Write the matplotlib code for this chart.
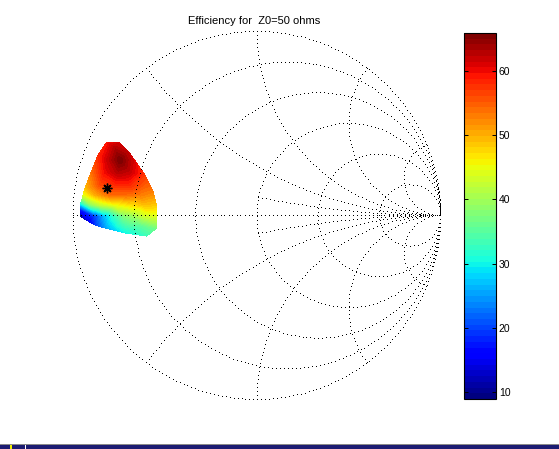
import numpy as np
import matplotlib
matplotlib.use("Agg")
import matplotlib.pyplot as plt
import matplotlib.tri as mtri
from matplotlib.patches import Rectangle

plt.rcParams['font.family'] = ['Liberation Sans', 'DejaVu Sans']

# ---------------- data ----------------
TITLE = "Efficiency for  Z0=50 ohms"
R_CIRCLES = [0.2, 0.5, 1, 2, 5]
# reactance arcs and the resistance from which each is drawn
X_ARCS = [0.2, 0.5, 1, 2, 5, -0.2, -0.5, -1, -2, -5]
X_ARC_RSTART = [1, 0, 0, 0, 0, 1, 0, 0, 0, 0]

# measured load points (reflection coefficient) and drain efficiency (%)
GAMMA_RE = [-0.814, -0.751, -0.698, -0.606, -0.5625, -0.546, -0.543, -0.542,
            -0.597, -0.715, -0.823, -0.878, -0.916, -0.959, -0.957, -0.954,
            -0.943, -0.932, -0.896, -0.861,
            -0.878, -0.823, -0.769, -0.715, -0.660, -0.606,
            -0.905, -0.851, -0.769, -0.6875, -0.606,
            -0.878, -0.796, -0.715, -0.633,
            -0.851, -0.769, -0.6875, -0.606,
            -0.823, -0.753, -0.6875,
            -0.807, -0.742, -0.677,
            -0.769, -0.769, -0.633]
GAMMA_IM = [0.402, 0.402, 0.353, 0.223, 0.136, 0.071, 0.0, -0.065,
            -0.109, -0.092, -0.065, -0.049, -0.027, 0.0, 0.033, 0.071,
            0.114, 0.152, 0.245, 0.332,
            0.0, 0.0, 0.0, 0.0, 0.0, 0.0,
            0.060, 0.060, 0.060, 0.060, 0.060,
            0.114, 0.114, 0.114, 0.114,
            0.168, 0.168, 0.168, 0.168,
            0.239, 0.239, 0.239,
            0.304, 0.304, 0.304,
            0.370, -0.065, -0.054]
EFFICIENCY = [59, 61, 62, 57, 53, 49, 44, 37,
              33, 30, 25, 19, 14, 8.96, 17, 32,
              44, 49, 54, 58,
              20, 27, 33, 38, 40, 43,
              38, 42, 45, 47, 49,
              50, 54, 54, 53,
              56, 58, 58, 55,
              60, 63, 62,
              62, 65.9, 62,
              63, 29, 35]

STAR_RE = [-0.8125]
STAR_IM = [0.152]

CB_TICKS = [10, 20, 30, 40, 50, 60]

# ---------------- figure ----------------
W, H = 559, 449
fig = plt.figure(figsize=(W / 100, H / 100), dpi=100)
fig.patch.set_facecolor('white')

cx, cy, R = 256.5, 216.0, 184.0
ax = fig.add_axes([(cx - R) / W, (H - (cy + R)) / H, 2 * R / W, 2 * R / H])
ax.set_xlim(-1, 1)
ax.set_ylim(-1, 1)
ax.set_aspect('equal')
ax.axis('off')

cmap = plt.get_cmap('jet', 64)
tri = mtri.Triangulation(GAMMA_RE, GAMMA_IM)
vmin, vmax = min(EFFICIENCY), max(EFFICIENCY)
levels = np.linspace(vmin, vmax, 65)
cs = ax.tricontourf(tri, EFFICIENCY, levels=levels, cmap=cmap, zorder=1)

# Smith chart grid drawn as 1-pixel dots (dotted line style)
DOT_STEP_PX = 4.0

def gamma(z):
    g = (z - 1) / (z + 1)
    return g.real, g.imag

def dotted(gx, gy):
    pts = ax.transData.transform(np.column_stack([gx, gy]))
    seg = np.hypot(np.diff(pts[:, 0]), np.diff(pts[:, 1]))
    s = np.concatenate([[0], np.cumsum(seg)])
    t = np.arange(0, s[-1], DOT_STEP_PX)
    px = np.interp(t, s, pts[:, 0])
    py = np.interp(t, s, pts[:, 1])
    d = ax.transData.inverted().transform(np.column_stack([px, py]))
    ax.plot(d[:, 0], d[:, 1], linestyle='none', marker=',', color='black',
            clip_on=False, zorder=3)

xs = np.concatenate([-np.logspace(4, -3, 3000), [0], np.logspace(-3, 4, 3000)])
for r in [0] + R_CIRCLES:
    gx, gy = gamma(r + 1j * xs)
    dotted(gx, gy)
for x, r0 in zip(X_ARCS, X_ARC_RSTART):
    lo = np.log10(r0) if r0 > 0 else -3
    rs = np.logspace(lo, 4, 4000)
    if r0 == 0:
        rs = np.concatenate([[0], rs])
    gx, gy = gamma(rs + 1j * x)
    dotted(gx, gy)
dotted(np.array([-1.0, 1.0]), np.array([0.0, 0.0]))

ax.plot(STAR_RE, STAR_IM, linestyle='none', marker=(8, 2, 0), markersize=7,
        markeredgecolor='black', markeredgewidth=1.0, zorder=5)

fig.text(254 / W, 1 - 21.5 / H, TITLE, ha='center', va='center', fontsize=8)

# colorbar
cax = fig.add_axes([464 / W, (H - 399) / H, 32 / W, 366 / H])
cb = fig.colorbar(cs, cax=cax, ticks=CB_TICKS)
cb.outline.set_linewidth(0.8)
cb.minorticks_off()
cax.tick_params(which='both', direction='in', left=True, right=True,
                length=3, width=0.7, labelsize=7.5, pad=2)

# bottom strip (screen capture task bar)
fig.add_artist(Rectangle((0, 0), 1, 4 / H, transform=fig.transFigure,
                         facecolor='#1c1c72', edgecolor='none'))
fig.add_artist(Rectangle((0, 4 / H), 1, 1 / H, transform=fig.transFigure,
                         facecolor='#8a8a8a', edgecolor='none'))
fig.add_artist(Rectangle((10 / W, 0), 2 / W, 4 / H, transform=fig.transFigure,
                         facecolor='#f0f000', edgecolor='none'))
fig.add_artist(Rectangle((25 / W, 0), 1 / W, 4 / H, transform=fig.transFigure,
                         facecolor='white', edgecolor='none'))

fig.savefig('out.png', dpi=100)
